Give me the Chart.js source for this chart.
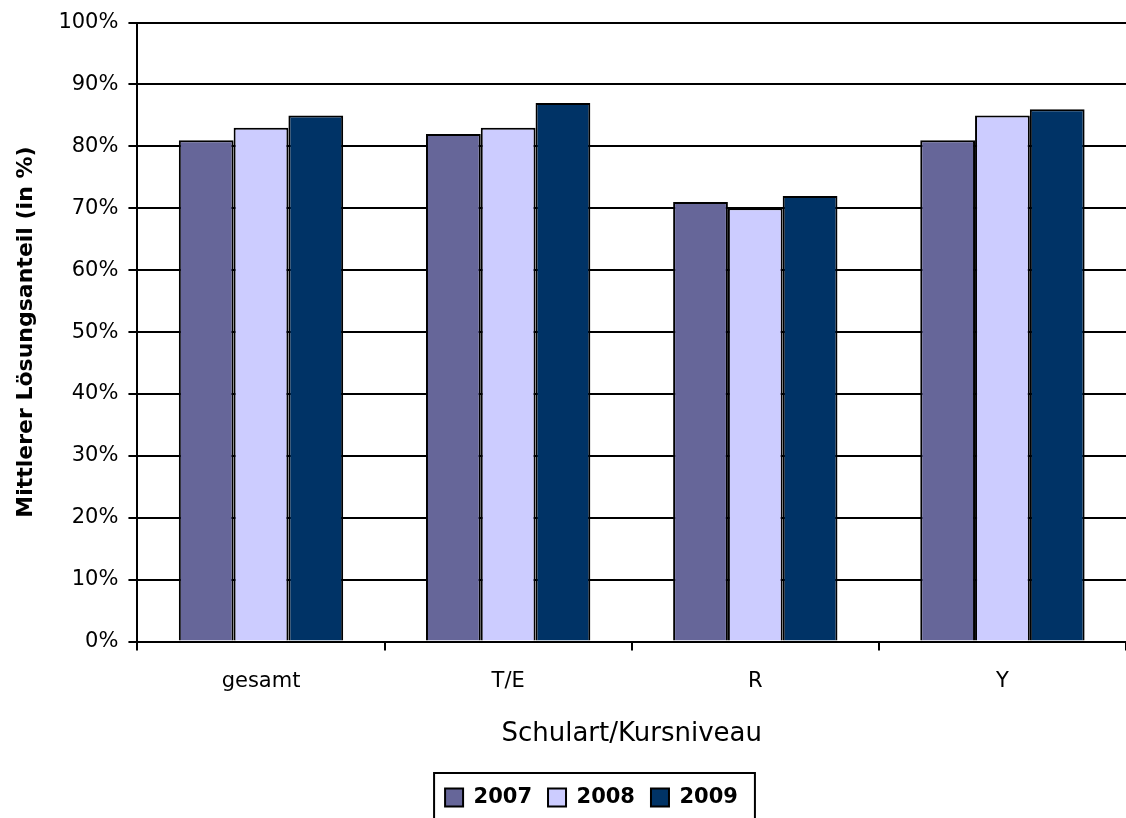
<!DOCTYPE html>
<html>
<head>
<meta charset="utf-8">
<script src="https://cdn.jsdelivr.net/npm/chart.js@4.4.1/dist/chart.umd.min.js"></script>
<style>
  html, body { margin: 0; padding: 0; background: #fff; }
  #wrap { width: 1126px; height: 818px; }
</style>
</head>
<body>
<div id="wrap"><canvas id="mycanvas" width="1126" height="818"></canvas></div>
<script>
// data
var categories = ["gesamt", "T/E", "R", "Y"];
var years = ["2007", "2008", "2009"];
var values2007 = [81, 82, 71, 81];
var values2008 = [83, 83, 70, 85];
var values2009 = [85, 87, 72, 86];
var yTicks = [0, 10, 20, 30, 40, 50, 60, 70, 80, 90, 100];

var colors = ["#666699", "#CCCCFF", "#003366"];
var series = [values2007, values2008, values2009];

var datasets = [];
for (var i in years) {
	datasets.push({
		label: years[i],
		data: series[i],
		backgroundColor: colors[i],
		borderColor: "#000",
		borderWidth: 2,
		borderSkipped: "bottom",
		barPercentage: 1,
		categoryPercentage: 0.665
	});
}

// legend sits a bit right of centre in the original, with a frame round it
var legendShift = 22;
var legendBox = {
	id: "legendBox",
	afterLayout: function(chart) {
		var lg = chart.legend;
		if (!lg) return;
		lg.left += legendShift;
		lg.right += legendShift;
		lg.legendHitBoxes.forEach(function(h) { h.left += legendShift; });
	},
	afterDraw: function(chart) {
		var lg = chart.legend;
		if (!lg || !lg.legendHitBoxes.length) return;
		var l = Infinity, r = -Infinity, t = Infinity, b = -Infinity;
		lg.legendHitBoxes.forEach(function(h) {
			l = Math.min(l, h.left); r = Math.max(r, h.left + h.width);
			t = Math.min(t, h.top); b = Math.max(b, h.top + h.height);
		});
		var ctx = chart.ctx;
		ctx.save();
		ctx.strokeStyle = "#000";
		ctx.lineWidth = 2;
		ctx.strokeRect(l - 11, t - 14, (r - l) + 28, (b - t) + 40);
		ctx.restore();
	}
};

var ctx = document.getElementById("mycanvas");
var barGraph = new Chart(ctx, {
	type: "bar",
	data: { labels: categories, datasets: datasets },
	plugins: [legendBox],
	options: {
		responsive: false,
		animation: false,
		layout: { padding: { top: 8, right: 0, left: 13, bottom: 0 } },
		plugins: {
			tooltip: { enabled: false },
			legend: {
				position: "bottom",
				labels: {
					color: "#000",
					font: { family: "DejaVu Sans", size: 21, weight: "bold" },
					boxWidth: 18,
					boxHeight: 18,
					padding: 16,
					generateLabels: function(chart) {
						return chart.data.datasets.map(function(ds, i) {
							return {
								text: ds.label,
								fillStyle: ds.backgroundColor,
								strokeStyle: "#000",
								lineWidth: 2,
								datasetIndex: i
							};
						});
					}
				}
			}
		},
		scales: {
			x: {
				grid: {
					offset: true,
					drawOnChartArea: false,
					drawTicks: true,
					tickLength: 9,
					color: "#000",
					lineWidth: 2
				},
				border: { display: false },
				ticks: {
					color: "#000",
					padding: 18,
					font: { family: "DejaVu Sans", size: 21 }
				},
				title: {
					display: true,
					text: "Schulart/Kursniveau",
					color: "#000",
					font: { family: "DejaVu Sans", size: 26 },
					padding: { top: 7, bottom: 21 }
				}
			},
			y: {
				min: 0,
				max: 100,
				afterBuildTicks: function(axis) {
					axis.ticks = yTicks.map(function(v) { return { value: v }; });
				},
				grid: {
					color: "#000",
					lineWidth: 2,
					tickLength: 9
				},
				border: { display: true, color: "#000", width: 2 },
				ticks: {
					color: "#000",
					padding: 10,
					font: { family: "DejaVu Sans", size: 21 },
					callback: function(v) { return v + "%"; }
				},
				title: {
					display: true,
					text: "Mittlerer Lösungsanteil (in %)",
					color: "#000",
					font: { family: "DejaVu Sans", size: 22, weight: "bold" },
					padding: { top: 0, bottom: 9 }
				}
			}
		}
	}
});
</script>
</body>
</html>
